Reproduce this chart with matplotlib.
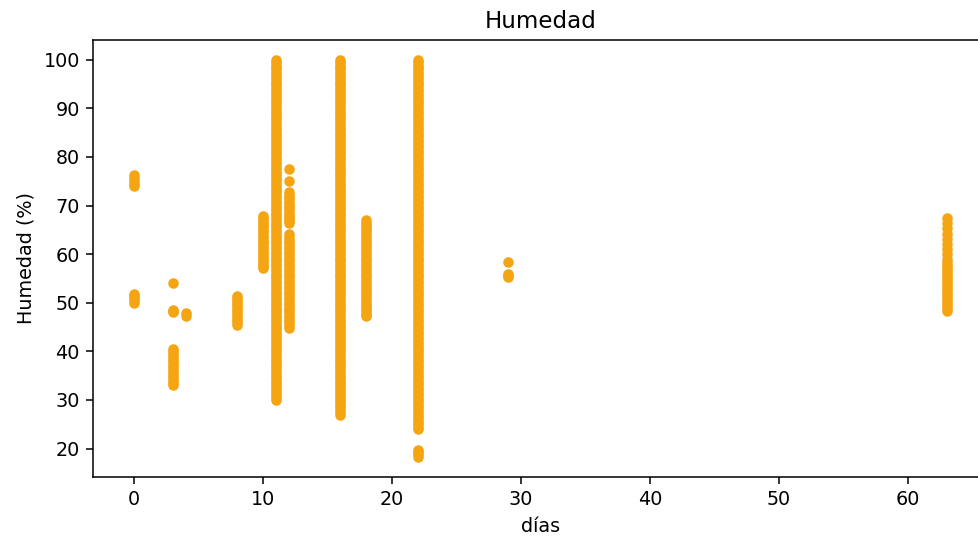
import numpy as np
import matplotlib
matplotlib.use("Agg")
import matplotlib.pyplot as plt

# humedad (%) leida por dia
dia0 = [74, 74.5, 75, 75.6, 76.2, 50, 50.5, 51, 51.4, 51.8]
dia3 = [54, 48, 48.3, 48.6, 33, 33.5, 34, 34.5, 35, 35.5, 36, 36.5, 37,
        37.5, 38, 38.5, 39, 39.5, 40, 40.4]
dia4 = [47.3, 47.8]
dia8 = [45.5, 46, 46.5, 47, 47.5, 48, 48.5, 49, 49.5, 50, 50.5, 51, 51.3]
dia10 = [57.2, 57.5, 58, 58.5, 59, 59.5, 60, 60.5, 61, 61.5, 62, 62.5,
         63, 63.5, 64, 64.5, 65, 65.5, 66, 66.5, 67, 67.5, 67.8]
dia11 = [30, 30.5, 31, 31.5, 32, 32.5, 33, 33.5, 34, 34.5, 35, 35.5, 36,
         36.5, 37, 37.5, 38, 38.5, 39, 39.5, 40, 40.5, 41, 41.5, 42, 42.5,
         43, 43.5, 44, 44.5, 45, 45.5, 46, 46.5, 47, 47.5, 48, 48.5, 49,
         49.5, 50, 50.5, 51, 51.5, 52, 52.5, 53, 53.5, 54, 54.5, 55, 55.5,
         56, 56.5, 57, 57.5, 58, 58.5, 59, 59.5, 60, 60.5, 61, 61.5, 62,
         62.5, 63, 63.5, 64, 64.5, 65, 65.5, 66, 66.5, 67, 67.5, 68, 68.5,
         69, 69.5, 70, 70.5, 71, 71.5, 72, 72.5, 73, 73.5, 74, 74.5, 75,
         75.5, 76, 76.5, 77, 77.5, 78, 78.5, 79, 79.5, 80, 80.5, 81, 81.5,
         82, 82.5, 83, 83.5, 84, 84.5, 85, 85.5, 86, 86.5, 87, 87.5, 88,
         88.5, 89, 89.5, 90, 90.5, 91, 91.5, 92, 92.5, 93, 93.5, 94, 94.5,
         95, 95.5, 96, 96.5, 97, 97.5, 98, 98.5, 99, 99.5, 100]
dia12 = [77.5, 75.1, 72.7, 72.2, 71.8, 71.3, 70.8, 70.4, 69.9, 69.5, 69,
         68.5, 68, 67.6, 67.2, 66.8, 66.5,
         64.1, 63.5, 63, 62.5, 62, 61.5, 61, 60.5, 60, 59.5, 59, 58.5, 58,
         57.5, 57, 56.5, 56, 55.5, 55, 54.5, 54, 53.5, 53, 52.5, 52, 51.5,
         51, 50.5, 50, 49.5, 49, 48.5, 48, 47.5, 47, 46.5, 46, 45.5, 44.8]
dia16 = [27, 27.5, 28, 28.5, 29, 29.5, 30, 30.5, 31, 31.5, 32, 32.5, 33,
         33.5, 34, 34.5, 35, 35.5, 36, 36.5, 37, 37.5, 38, 38.5, 39, 39.5,
         40, 40.5, 41, 41.5, 42, 42.5, 43, 43.5, 44, 44.5, 45, 45.5, 46,
         46.5, 47, 47.5, 48, 48.5, 49, 49.5, 50, 50.5, 51, 51.5, 52, 52.5,
         53, 53.5, 54, 54.5, 55, 55.5, 56, 56.5, 57, 57.5, 58, 58.5, 59,
         59.5, 60, 60.5, 61, 61.5, 62, 62.5, 63, 63.5, 64, 64.5, 65, 65.5,
         66, 66.5, 67, 67.5, 68, 68.5, 69, 69.5, 70, 70.5, 71, 71.5, 72,
         72.5, 73, 73.5, 74, 74.5, 75, 75.5, 76, 76.5, 77, 77.5, 78, 78.5,
         79, 79.5, 80, 80.5, 81, 81.5, 82, 82.5, 83, 83.5, 84, 84.5, 85,
         85.5, 86, 86.5, 87, 87.5, 88, 88.5, 89, 89.5, 90, 90.5, 91, 91.5,
         92, 92.5, 93, 93.5, 94, 94.5, 95, 95.5, 96, 96.5, 97, 97.5, 98,
         98.5, 99, 99.5, 100]
dia18 = [47.2, 47.5, 48, 48.5, 49, 49.5, 50, 50.5, 51, 51.5, 52, 52.5,
         53, 53.5, 54, 54.5, 55, 55.5, 56, 56.5, 57, 57.5, 58, 58.5, 59,
         59.5, 60, 60.5, 61, 61.5, 62, 62.5, 63, 63.5, 64, 64.5, 65, 65.5,
         66, 66.5, 67]
dia22 = [18.3, 18.8, 19.3, 19.8,
         24, 24.5, 25, 25.5, 26, 26.5, 27, 27.5, 28, 28.5, 29, 29.5, 30,
         30.5, 31, 31.5, 32, 32.5, 33, 33.5, 34, 34.5, 35, 35.5, 36, 36.5,
         37, 37.5, 38, 38.5, 39, 39.5, 40, 40.5, 41, 41.5, 42, 42.5, 43,
         43.5, 44, 44.5, 45, 45.5, 46, 46.5, 47, 47.5, 48, 48.5, 49, 49.5,
         50, 50.5, 51, 51.5, 52, 52.5, 53, 53.5, 54, 54.5, 55, 55.5, 56,
         56.5, 57, 57.5, 58, 58.5, 59, 59.5, 60, 60.5, 61, 61.5, 62, 62.5,
         63, 63.5, 64, 64.5, 65, 65.5, 66, 66.5, 67, 67.5, 68, 68.5, 69,
         69.5, 70, 70.5, 71, 71.5, 72, 72.5, 73, 73.5, 74, 74.5, 75, 75.5,
         76, 76.5, 77, 77.5, 78, 78.5, 79, 79.5, 80, 80.5, 81, 81.5, 82,
         82.5, 83, 83.5, 84, 84.5, 85, 85.5, 86, 86.5, 87, 87.5, 88, 88.5,
         89, 89.5, 90, 90.5, 91, 91.5, 92, 92.5, 93, 93.5, 94, 94.5, 95,
         95.5, 96, 96.5, 97, 97.5, 98, 98.5, 99, 99.5, 100]
dia29 = [58.4, 55.2, 55.6, 56]
dia63 = [67.5, 66.4, 65.3, 64.2, 63.1, 62, 61, 60, 59, 58.3, 57.8, 57.3,
         56.8, 56.3, 55.8, 55.3, 54.8, 54.3, 53.8, 53.3, 52.8, 52.3, 51.8,
         51.3, 50.8, 50.3, 49.8, 49.3, 48.8, 48.3]

grupos = {0: dia0, 3: dia3, 4: dia4, 8: dia8, 10: dia10, 11: dia11,
          12: dia12, 16: dia16, 18: dia18, 22: dia22, 29: dia29, 63: dia63}

dias = []
humedad = []
for d, vals in grupos.items():
    dias += [d] * len(vals)
    humedad += vals

fig = plt.figure(figsize=(978 / 138, 540 / 138), dpi=138)
# the original figure is a bit wider than the picture, right edge cut off
ax = fig.add_axes([0.0954, 0.1172, 0.914, 0.809])

ax.scatter(dias, humedad, s=20, color='#f5a412')
ax.set_title('Humedad')
ax.set_xlabel('días')
ax.set_ylabel('Humedad (%)')

fig.savefig('out.png', dpi=138)
